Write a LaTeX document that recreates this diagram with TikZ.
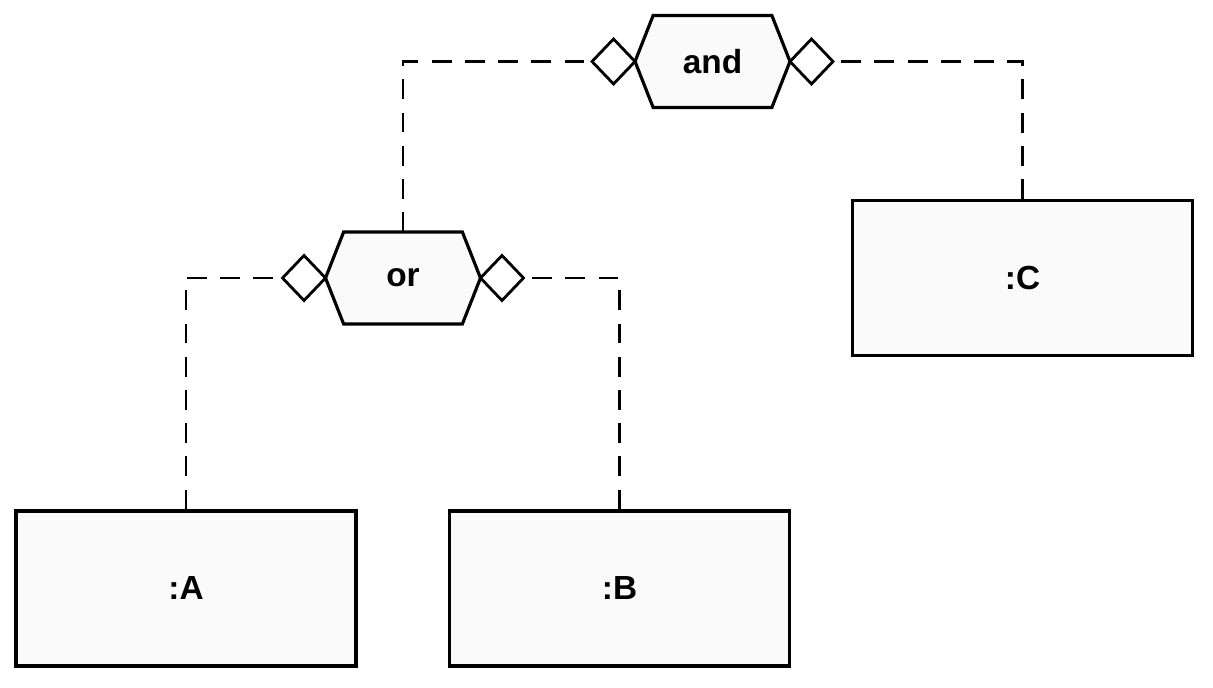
\documentclass[tikz,border=0pt]{standalone}
\usepackage{fontspec}
\setmainfont{Liberation Sans}
\usepackage{tikz}
\usetikzlibrary{
  shapes.geometric,
  shapes.symbols,
  positioning
}
\definecolor{boxfill}{RGB}{250, 250, 250}
\definecolor{linecolor}{RGB}{0, 0, 0}
\tikzset{
blocktext/.style={
  align=center,
  font=\fontsize{19}{21}\selectfont\bfseries,
  text=black
},
objectbox/.style={
  draw=linecolor,
  line width=1.8pt,
  fill=boxfill,
  minimum width=6.8cm,
  minimum height=3.1cm,
  inner sep=0pt,
  blocktext
},
opblock/.style={
  draw=linecolor,
  line width=1.8pt,
  fill=boxfill,
  signal,
  signal to=east and west,
  signal pointer angle=137,
  minimum width=3.1cm,
  minimum height=1.84cm,
  inner sep=0pt,
  outer sep=0pt,
  blocktext
},
portdiamond/.style={
  draw=linecolor,
  line width=1.6pt,
  fill=white,
  diamond,
  minimum width=0.86cm,
  minimum height=0.9cm,
  inner sep=0pt,
  outer sep=0pt
},
link/.style={
  draw=linecolor,
  line width=1.5pt,
  dash pattern=on 11.3pt off 7.6pt
}
}
\begin{document}
\begin{tikzpicture}[x=0.02cm, y=-0.02cm]
  \useasboundingbox (0,0) rectangle (1213,688);
  % Operators
  \node[opblock] (and) at (712.5,61.5) {and};
  \node[portdiamond, left=0pt of and.west, anchor=east] (andl) {};
  \node[portdiamond, right=0pt of and.east, anchor=west] (andr) {};
  \node[opblock] (or) at (403,278) {or};
  \node[portdiamond, left=0pt of or.west, anchor=east] (orl) {};
  \node[portdiamond, right=0pt of or.east, anchor=west] (orr) {};
  % Objects
  \node[objectbox] (a) at (186,588.5) {:A};
  \node[objectbox] (b) at (619.5,588.5) {:B};
  \node[objectbox] (c) at (1022.5,278) {:C};
  % Links
  \draw[link] (or.north) |- (andl.west);
  \draw[link] (c.north) |- (andr.east);
  \draw[link] (a.north) |- (orl.west);
  \draw[link] (b.north) |- (orr.east);
\end{tikzpicture}
\end{document}
